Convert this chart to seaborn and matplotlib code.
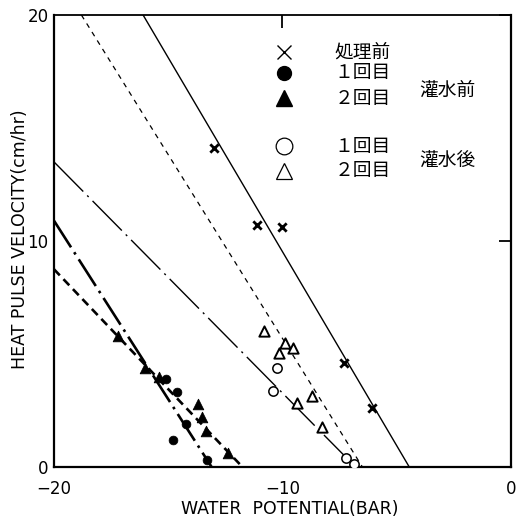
import numpy as np
import pandas as pd
import matplotlib
matplotlib.use("Agg")
import matplotlib.pyplot as plt
import seaborn as sns

# ---------------- data ----------------
# 処理前 (x)
pre_x = [-13.0, -11.1, -10.0, -7.3, -6.1]
pre_y = [14.1, 10.7, 10.6, 4.6, 2.6]
pre_line_x = [-16.1, -4.45]
pre_line_y = [20.0, 0.0]

# 灌水前 1回目 (filled circle)
b1_x = [-15.1, -14.6, -14.2, -14.8, -13.3]
b1_y = [3.9, 3.3, 1.9, 1.2, 0.3]
b1_line_x = [-20.0, -13.1]
b1_line_y = [10.9, 0.0]

# 灌水前 2回目 (filled triangle)
b2_x = [-17.2, -16.0, -15.4, -13.7, -13.5, -13.35, -12.4]
b2_y = [5.8, 4.4, 4.0, 2.8, 2.2, 1.6, 0.6]
b2_line_x = [-20.0, -11.75]
b2_line_y = [8.75, 0.0]

# 灌水後 1回目 (open circle)
a1_x = [-10.25, -10.4, -7.2, -6.85]
a1_y = [4.4, 3.35, 0.4, 0.13]
a1_line_x = [-20.0, -6.8]
a1_line_y = [13.5, 0.0]

# 灌水後 2回目 (open triangle)
a2_x = [-10.8, -9.9, -9.55, -10.15, -8.7, -9.35, -8.25]
a2_y = [6.0, 5.5, 5.25, 5.05, 3.15, 2.85, 1.75]
a2_line_x = [-18.8, -6.5]
a2_line_y = [20.0, 0.0]

x_ticks = [-20, -10, 0]
y_ticks = [0, 10, 20]
x_label = "WATER  POTENTIAL(BAR)"
y_label = "HEAT PULSE VELOCITY(cm/hr)"
legend_labels = ["処理前", "１回目", "２回目", "１回目", "２回目"]
group_labels = ["灌水前", "灌水後"]

# ---------------- style ----------------
sns.set_theme(style="white")
plt.rcParams["font.family"] = ["DejaVu Sans", "Noto Sans CJK JP"]
jp_font = ["Noto Sans CJK JP", "DejaVu Sans"]

fig = plt.figure(figsize=(5.18, 5.17), dpi=100)
ax = fig.add_axes([0.1042, 0.0967, 0.8822, 0.8743])

k = "black"

# lines
sns.lineplot(x=pre_line_x, y=pre_line_y, ax=ax, color=k, linewidth=1.0, linestyle="-")
sns.lineplot(x=a2_line_x, y=a2_line_y, ax=ax, color=k, linewidth=0.9,
             linestyle=(0, (4.0, 4.0)))
sns.lineplot(x=a1_line_x, y=a1_line_y, ax=ax, color=k, linewidth=1.0,
             linestyle=(0, (30, 4, 1.5, 4)))
sns.lineplot(x=b1_line_x, y=b1_line_y, ax=ax, color=k, linewidth=1.9,
             linestyle=(0, (12, 2.2, 1.0, 2.2)))
sns.lineplot(x=b2_line_x, y=b2_line_y, ax=ax, color=k, linewidth=1.9,
             linestyle=(0, (3.2, 2.0)))

# points
sns.scatterplot(x=pre_x, y=pre_y, ax=ax, marker="x", color=k, s=36, linewidth=2.0, zorder=5)
sns.scatterplot(x=b1_x, y=b1_y, ax=ax, marker="o", color=k, s=40, edgecolor=k, zorder=5)
sns.scatterplot(x=b2_x, y=b2_y, ax=ax, marker="^", color=k, s=58, edgecolor=k, zorder=5)
sns.scatterplot(x=a1_x, y=a1_y, ax=ax, marker="o", facecolor="white", edgecolor=k,
                s=45, linewidth=1.1, zorder=5)
sns.scatterplot(x=a2_x, y=a2_y, ax=ax, marker="^", facecolor="white", edgecolor=k,
                s=55, linewidth=1.4, zorder=5)

# manual legend
lx = 0.503
ly = [0.918, 0.872, 0.816, 0.710, 0.655]
ax.plot(lx, ly[0], marker="x", color=k, markersize=10, mew=1.0, transform=ax.transAxes)
ax.plot(lx, ly[1], marker="o", color=k, markersize=10, transform=ax.transAxes)
ax.plot(lx, ly[2], marker="^", color=k, markersize=12, transform=ax.transAxes)
ax.plot(lx, ly[3], marker="o", mfc="white", mec=k, markersize=12, mew=0.9, transform=ax.transAxes)
ax.plot(lx, ly[4], marker="^", mfc="white", mec=k, markersize=12, mew=0.9, transform=ax.transAxes)
for yy, lab in zip(ly, legend_labels):
    ax.text(0.676, yy, lab, transform=ax.transAxes, ha="center", va="center",
            fontsize=13.5, family=jp_font, color=k)
ax.text(0.86, 0.834, group_labels[0], transform=ax.transAxes, ha="center", va="center",
        fontsize=13.5, family=jp_font, color=k)
ax.text(0.86, 0.679, group_labels[1], transform=ax.transAxes, ha="center", va="center",
        fontsize=13.5, family=jp_font, color=k)

# axes
ax.set_xlim(-20, 0)
ax.set_ylim(0, 20)
ax.set_xticks(x_ticks)
ax.set_yticks(y_ticks)
ax.tick_params(direction="in", length=9, width=1.3, top=True, right=True,
               labelsize=12, colors=k)
ax.tick_params(axis="x", pad=9)
ax.tick_params(axis="y", pad=4)
for name, sp in ax.spines.items():
    sp.set_color(k)
    sp.set_linewidth(1.6 if name != "top" else 1.3)
    sp.set_visible(True)

ax.set_xlabel(x_label, fontsize=12.5, color=k)
ax.set_ylabel(y_label, fontsize=12.5, color=k)
ax.xaxis.set_label_coords(0.516, -0.072)
ax.yaxis.set_label_coords(-0.055, 0.505)

fig.savefig("out.png", dpi=100)
